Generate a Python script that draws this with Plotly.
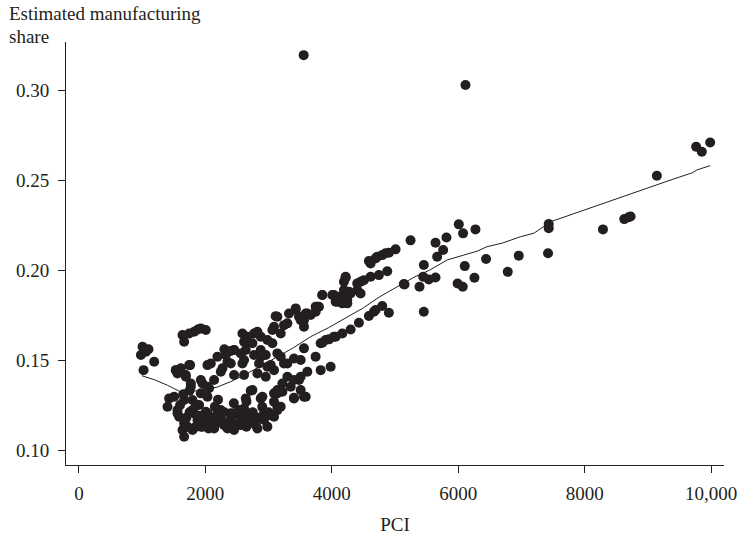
import plotly.graph_objects as go

# Scatter data: PCI vs estimated manufacturing share
pci = [
    1006, 1059, 980, 1190, 1022, 1100,
    1928, 1822, 1743, 1638, 1664, 2007, 1880,
    1533, 1612, 1759, 1691, 1770, 1954, 2059, 1559, 1691, 1743, 1533, 1770, 1928, 2138, 2033,
    2086, 2191, 2323, 2402, 2270, 2454, 2612, 2665, 2454, 2560, 2033, 2349, 2244, 2454,
    1427, 1506, 1664, 1796, 1928, 2033, 1401, 1559, 1585, 1664, 1638, 1664, 1796, 1875, 2007,
    1954, 2086, 2191, 2217, 2349, 2402, 2533, 2612, 2454, 2296, 2138, 1796, 1901, 1717, 1928,
    2138, 2296, 2560, 2823, 2928, 3034, 3139, 2665, 2454, 2244, 2033, 1822, 1559,
    2612, 2665, 2797, 2928, 3086, 3139, 2981, 2639, 2744, 2902, 3086, 3218, 3402, 3587, 2876,
    3086, 3350, 3508, 3139, 3560, 3192, 3218,
    2612, 2823, 2955, 3086, 3244, 3297, 3481, 3613, 3824, 3982, 3402, 3508, 3192, 3744, 3560,
    2770, 2876, 3060, 3139, 3323, 3429, 3613, 3745, 3508, 3560, 3244, 3192, 3060, 2876, 2744,
    2639, 2770, 2955, 3139, 2849, 3034, 2586, 2612, 2586, 2665, 2823, 2981, 3086, 2876, 2981,
    3297, 3402, 3508, 2560, 2720, 2400, 2300,
    3297, 3429, 3560, 3666, 3771, 3850, 4034, 4166, 4087, 4245, 3797, 3745, 3587, 3113, 3481,
    3850, 4008, 4113, 4061, 4166, 4192, 4219, 4271, 4403, 4456, 4298, 4245,
    4219, 4456, 4614, 4745, 4877, 4614, 4719, 4851, 5009, 5246, 4508, 4403, 4192, 4903, 4798,
    4693, 4587,
    3824, 3903, 4034, 4166, 4298, 4429, 4587, 4693, 4798, 4903, 4666, 3955, 3850, 4061,
    5140, 5151, 5388, 5446, 5535, 5641, 5456, 5667, 5762, 5641, 5814, 5456,
    6009, 6077, 6273, 6104, 6441, 6257, 6072, 5990,
    6784, 6958, 7421, 7432, 7432, 8290, 8627, 8695, 8727, 9143, 9764, 9854, 9986,
    3555, 6115,
    1700, 1750, 1850, 1900, 2000, 2050, 2100, 2150, 2250, 2300, 2350, 2400, 2500, 2550,
    2650, 2700, 2750, 2850, 2900, 3000, 2200, 2450, 2650, 1850, 1600, 1650, 1750,
    2718, 3139, 3402,
]
share = [
    0.1574, 0.1546, 0.1528, 0.1491, 0.1444, 0.1560,
    0.1676, 0.1657, 0.1648, 0.1639, 0.1602, 0.1667, 0.1670,
    0.1444, 0.1454, 0.1472, 0.1417, 0.1370, 0.1370, 0.1343, 0.1426, 0.1407, 0.1472, 0.1444, 0.1352, 0.1389, 0.1389, 0.1352,
    0.1481, 0.1519, 0.1528, 0.1481, 0.1454, 0.1417, 0.1500, 0.1602, 0.1556, 0.1537, 0.1472, 0.1490, 0.1435, 0.1556,
    0.1287, 0.1296, 0.1278, 0.1278, 0.1315, 0.1296, 0.1241, 0.1222, 0.1185, 0.1148, 0.1111, 0.1074, 0.1111, 0.1167, 0.1213,
    0.1130, 0.1148, 0.1204, 0.1157, 0.1148, 0.1204, 0.1222, 0.1167, 0.1111, 0.1139, 0.1120, 0.1222, 0.1250, 0.1130, 0.1130,
    0.1130, 0.1139, 0.1139, 0.1120, 0.1167, 0.1194, 0.1222, 0.1204, 0.1204, 0.1222, 0.1204, 0.1204, 0.1204,
    0.1231, 0.1185, 0.1139, 0.1204, 0.1185, 0.1241, 0.1130, 0.1287, 0.1333, 0.1296, 0.1315, 0.1324, 0.1287, 0.1296, 0.1287,
    0.1269, 0.1352, 0.1333, 0.1333, 0.1296, 0.1241, 0.1370,
    0.1417, 0.1426, 0.1407, 0.1444, 0.1481, 0.1407, 0.1389, 0.1435, 0.1444, 0.1463, 0.1509, 0.1500, 0.1519, 0.1519, 0.1565,
    0.1648, 0.1630, 0.1667, 0.1741, 0.1759, 0.1787, 0.1759, 0.1796, 0.1722, 0.1685, 0.1694, 0.1648, 0.1593, 0.1556, 0.1593,
    0.1556, 0.1528, 0.1528, 0.1537, 0.1481, 0.1472, 0.1481, 0.1602, 0.1648, 0.1630, 0.1657, 0.1611, 0.1685, 0.1519, 0.1463,
    0.1481, 0.1389, 0.1407, 0.1139, 0.1170, 0.1550, 0.1560,
    0.1704, 0.1778, 0.1722, 0.1750, 0.1796, 0.1861, 0.1861, 0.1843, 0.1824, 0.1815, 0.1796, 0.1768, 0.1759, 0.1744, 0.1741,
    0.1861, 0.1861, 0.1852, 0.1824, 0.1815, 0.1935, 0.1957, 0.1880, 0.1889, 0.1870, 0.1870, 0.1833,
    0.1963, 0.1935, 0.1963, 0.1972, 0.1993, 0.2037, 0.2074, 0.2093, 0.2115, 0.2165, 0.1944, 0.1926, 0.1889, 0.2096, 0.2083,
    0.2065, 0.2050,
    0.1593, 0.1611, 0.1630, 0.1648, 0.1670, 0.1707, 0.1745, 0.1778, 0.1800, 0.1763, 0.1768, 0.1615, 0.1596, 0.1630,
    0.1922, 0.1920, 0.1907, 0.1963, 0.1948, 0.1959, 0.2028, 0.2074, 0.2111, 0.2152, 0.2181, 0.1768,
    0.2254, 0.2204, 0.2226, 0.2022, 0.2061, 0.1957, 0.1907, 0.1925,
    0.1990, 0.2080, 0.2093, 0.2256, 0.2232, 0.2226, 0.2283, 0.2293, 0.2298, 0.2524, 0.2685, 0.2657, 0.2709,
    0.3194, 0.3028,
    0.1180, 0.1210, 0.1130, 0.1190, 0.1160, 0.1120, 0.1180, 0.1240, 0.1170, 0.1210, 0.1120, 0.1170, 0.1140, 0.1180,
    0.1130, 0.1160, 0.1210, 0.1180, 0.1240, 0.1210, 0.1280, 0.1260, 0.1270, 0.1250, 0.1250, 0.1310, 0.1330,
    0.1330, 0.1315, 0.1290,
]

# Smoothed fit line
fit_pci = [995, 1200, 1400, 1638, 1660, 1900, 2191, 2400, 2665, 2900, 3139, 3400, 3666, 3950,
           4245, 4500, 4750, 5035, 5300, 5550, 5825, 6085, 6300, 6457, 6700, 6984, 7200,
           7458, 7800, 8248, 8669, 9000, 9400, 9700, 9775, 9986]
fit_share = [0.1413, 0.1390, 0.1360, 0.1318, 0.1325, 0.1330, 0.1350, 0.1380, 0.1426, 0.1470,
             0.1518, 0.1570, 0.1630, 0.1680, 0.1740, 0.1790, 0.1850, 0.1907, 0.1960, 0.2000,
             0.2056, 0.2083, 0.2105, 0.2130, 0.2150, 0.2185, 0.2205, 0.2268, 0.2310, 0.2367,
             0.2417, 0.2455, 0.2505, 0.2540, 0.2556, 0.2580]

x_ticks = [0, 2000, 4000, 6000, 8000, 10000]
x_tick_labels = ["0", "2000", "4000", "6000", "8000", "10,000"]
y_ticks = [0.10, 0.15, 0.20, 0.25, 0.30]
y_tick_labels = ["0.10", "0.15", "0.20", "0.25", "0.30"]

INK = "#231f20"
FONT = "Liberation Serif"
FS = 19

fig = go.Figure()
fig.add_trace(go.Scatter(
    x=pci, y=share, mode="markers",
    marker=dict(size=10, color=INK, line=dict(width=0)),
    showlegend=False, hoverinfo="skip",
))
fig.add_trace(go.Scatter(
    x=fit_pci, y=fit_share, mode="lines",
    line=dict(color=INK, width=1),
    showlegend=False, hoverinfo="skip",
))

fig.update_layout(
    width=741, height=535,
    margin=dict(l=66, r=17, t=42, b=70),
    paper_bgcolor="white", plot_bgcolor="white",
    font=dict(family=FONT, size=FS, color=INK),
    xaxis=dict(
        range=[-205, 10205], tickvals=x_ticks, ticktext=x_tick_labels,
        automargin=False, ticklabelstandoff=4,
        showgrid=False, zeroline=False, showline=True, linecolor=INK, linewidth=1,
        ticks="outside", ticklen=7, tickcolor=INK, tickwidth=1,
        title=dict(text="PCI", standoff=20, font=dict(family=FONT, size=FS, color=INK)),
    ),
    yaxis=dict(
        range=[0.0917, 0.3267], tickvals=y_ticks, ticktext=y_tick_labels,
        automargin=False, ticklabelstandoff=5,
        showgrid=False, zeroline=False, showline=True, linecolor=INK, linewidth=1,
        ticks="outside", ticklen=7, tickcolor=INK, tickwidth=1,
    ),
    annotations=[
        dict(text="Estimated manufacturing", xref="paper", yref="paper",
             x=-0.0897, y=1.0662, xanchor="left", yanchor="middle", showarrow=False,
             font=dict(family=FONT, size=FS, color=INK)),
        dict(text="share", xref="paper", yref="paper",
             x=-0.0897, y=1.0130, xanchor="left", yanchor="middle", showarrow=False,
             font=dict(family=FONT, size=FS, color=INK)),
    ],
)

# remove the browser's default 8px page margin so the figure fills the window exactly
fig.write_html("out.html", config={"displayModeBar": False},
               post_script="document.body.style.margin='0';")
